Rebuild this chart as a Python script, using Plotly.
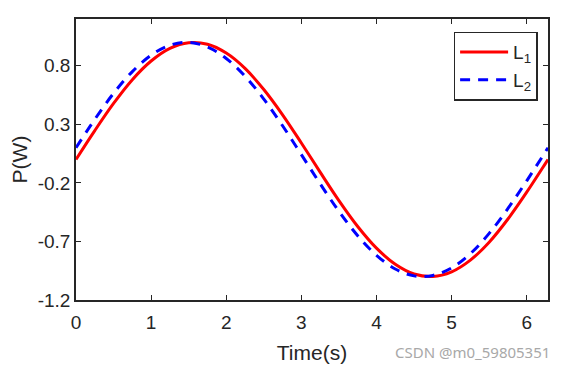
import plotly.graph_objects as go

t = [0.0, 0.25, 0.5, 0.75, 1.0, 1.25, 1.5, 1.75, 2.0, 2.25, 2.5, 2.75, 3.0, 3.25,
     3.5, 3.75, 4.0, 4.25, 4.5, 4.75, 5.0, 5.25, 5.5, 5.75, 6.0, 6.25, 6.283]
l1 = [0.000, 0.247, 0.479, 0.682, 0.841, 0.949, 0.997, 0.984, 0.909, 0.778, 0.598,
      0.382, 0.141, -0.108, -0.351, -0.572, -0.757, -0.895, -0.978, -0.999, -0.959,
      -0.859, -0.706, -0.508, -0.279, -0.033, 0.000]
l2 = [0.100, 0.343, 0.565, 0.751, 0.891, 0.976, 1.000, 0.961, 0.863, 0.711, 0.516,
      0.288, 0.042, -0.207, -0.443, -0.651, -0.818, -0.935, -0.994, -0.990, -0.926,
      -0.804, -0.631, -0.418, -0.182, 0.067, 0.100]
x_ticks = [0, 1, 2, 3, 4, 5, 6]
y_ticks = [-1.2, -0.7, -0.2, 0.3, 0.8]
y_tick_labels = ["-1.2", "-0.7", "-0.2", "0.3", "0.8"]

FONT = "Liberation Sans, Arial"
fig = go.Figure()
fig.add_trace(go.Scatter(x=t, y=l1, mode="lines", name="L<sub>1</sub>",
                         line=dict(color="#ff0000", width=3, shape="spline")))
fig.add_trace(go.Scatter(x=t, y=l2, mode="lines", name="L<sub>2</sub>",
                         line=dict(color="#0000ff", width=3, shape="spline", dash="10px,8px")))

axis_common = dict(showline=True, linecolor="#262626", linewidth=1.5, mirror="ticks",
                   ticks="inside", ticklen=5, tickcolor="#262626", showgrid=False,
                   zeroline=False, tickfont=dict(family=FONT, size=19, color="#262626"))

fig.update_xaxes(range=[0, 6.2832], tickvals=x_ticks, ticklabelstandoff=4,
                 title=dict(text="Time(s)", font=dict(family=FONT, size=21, color="#262626"), standoff=14),
                 **axis_common)
fig.update_yaxes(range=[-1.2, 1.2], tickvals=y_ticks, ticktext=y_tick_labels,
                 title=dict(text="P(W)", font=dict(family=FONT, size=21, color="#262626"), standoff=4),
                 **axis_common)

fig.update_layout(
    width=567, height=378,
    margin=dict(l=76, r=19, t=19, b=78, autoexpand=False),
    paper_bgcolor="white", plot_bgcolor="white",
    font=dict(family=FONT, color="#262626"),
    legend=dict(x=0.80, y=0.955, xanchor="left", yanchor="top",
                bgcolor="white", bordercolor="#262626", borderwidth=1.5,
                font=dict(size=19, color="#262626"), itemwidth=48, tracegroupgap=2),
    annotations=[dict(text="CSDN @m0_59805351", x=1.0, xshift=4, y=-0.185, xref="paper", yref="paper",
                      xanchor="right", yanchor="middle", showarrow=False,
                      font=dict(family="Noto Sans, DejaVu Sans", size=15, color="#a8a8a8"))],
)

fig.write_html("out.html", config={"displayModeBar": False},
               post_script="document.body.style.margin='0';document.body.style.overflow='hidden';")
